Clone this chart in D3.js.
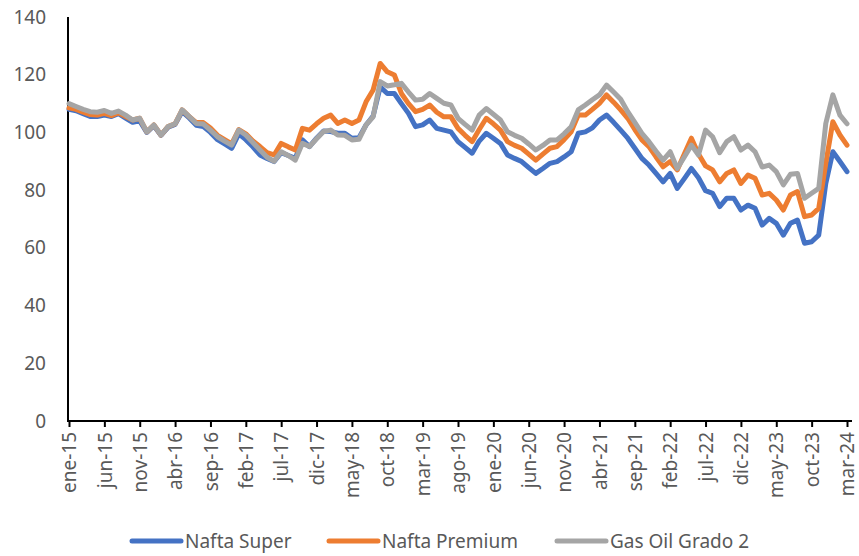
<!DOCTYPE html>
<html>
<head>
<meta charset="utf-8">
<script src="https://cdn.jsdelivr.net/npm/d3@7"></script>
<style>
  body { margin: 0; background: #fff; }
  svg text { font-family: "Noto Sans", "Open Sans", sans-serif; fill: #595959; }
</style>
</head>
<body>
<div id="chart"></div>
<script>
// month labels (ene-15 ... mar-24)
var monthNames = ["ene", "feb", "mar", "abr", "may", "jun", "jul", "ago", "sep", "oct", "nov", "dic"];
var startYear = 2015;
var nMonths = 111;

var yTicks = [0, 20, 40, 60, 80, 100, 120, 140];

var seriesNames = ["Nafta Super", "Nafta Premium", "Gas Oil Grado 2"];
var seriesColors = ["#4472C4", "#ED7D31", "#A5A5A5"];

var naftaSuper = [
  108, 107.5, 106.5, 105.5, 105.5, 106, 105.5, 106.5, 105, 103.5,
  104, 100, 102.3, 99, 101.8, 102.8, 107.2, 105, 102.5, 102,
  100, 97.5, 96, 94.5, 99.5, 97.5, 95, 92.2, 91, 89.9,
  93, 92, 91, 97.4, 95.1, 98, 100.5, 100.3, 99.7, 99.7,
  98, 98.2, 102.6, 105.7, 115.8, 113.5, 113.5, 110, 106.6, 102,
  102.6, 104.3, 101.4, 100.8, 100.2, 96.8, 94.8, 92.8, 97, 99.7,
  98, 96.2, 92.2, 91, 89.9, 87.8, 85.8, 87.5, 89.3, 89.9,
  91.5, 93.3, 99.7, 100.2, 101.6, 104.3, 106, 103.5, 100.8, 98,
  94.5, 91, 88.7, 85.8, 82.9, 85.8, 80.6, 84, 87.5, 84.3,
  79.8, 78.9, 74.3, 77.2, 77.2, 73.1, 74.8, 73.7, 67.9, 70.2,
  68.5, 64.4, 68.5, 69.6, 61.6, 62.1, 64.4, 82.3, 93.3, 89.9,
  86.4
];

var naftaPremium = [
  108.5, 108, 107, 106.2, 106, 106.6, 105.8, 106.8, 105.5, 104.3,
  104.9, 100.2, 102.6, 99.1, 102, 103, 107.8, 105.5, 103.4, 103.4,
  101.5, 99, 97.5, 96, 101, 99.5, 97, 95.1, 93, 92.2,
  96.2, 95, 93.9, 101.4, 100.8, 103, 104.9, 106, 103.1, 104.3,
  103.1, 104.3, 110.6, 114.7, 123.9, 121, 119.9, 113.5, 110, 107.2,
  108, 109.5, 107, 105.4, 105.4, 101.4, 99, 96.8, 101, 104.9,
  103, 100.8, 96.8, 95.5, 94.5, 92.5, 90.4, 92.5, 94.5, 95.1,
  97.5, 100.2, 106, 106, 108, 110.1, 113, 110.5, 107.8, 104.9,
  101, 97.4, 95.1, 91.5, 88.1, 89.9, 87, 92.5, 98, 92.5,
  88.4, 87, 82.9, 85.8, 87, 82.3, 85.2, 84.1, 78.3, 78.9,
  76.6, 73.1, 78.3, 79.5, 70.8, 71.4, 73.7, 89.3, 103.7, 99.1,
  95.6
];

var gasOil = [
  110, 109, 108, 107.2, 107, 107.6, 106.6, 107.4, 106, 104.3,
  104.9, 100.2, 102.6, 99.1, 102, 103, 107.8, 105.5, 103.1, 102.9,
  100.8, 98.5, 97, 95.6, 100.8, 99.1, 96.5, 93.9, 91.4, 90,
  93.3, 92, 90.4, 96.2, 95.1, 97.8, 100.3, 100.8, 99.1, 99,
  97.4, 97.6, 102.6, 105.4, 117.6, 116.1, 116.5, 117, 114, 111.2,
  111.5, 113.5, 111.8, 110.1, 109.5, 104.9, 102.8, 100.8, 106, 108.3,
  106.3, 104.3, 100.2, 99, 98, 96, 93.9, 95.5, 97.4, 97.4,
  99.5, 102, 107.8, 109.5, 111.3, 113, 116.4, 114, 111.5, 107.2,
  103.5, 99.7, 96.8, 93.5, 90.4, 93.3, 87.5, 91.5, 95.6, 92.2,
  100.8, 98.5, 93, 96.8, 98.5, 93.9, 95.6, 93.3, 88, 88.7,
  86.4, 81.8, 85.5, 85.8, 77.2, 78.9, 80.6, 103.1, 113, 106,
  103
];

var seriesValues = [naftaSuper, naftaPremium, gasOil];

var categories = [];
for (var i = 0; i < nMonths; i++) {
  var yr = startYear + Math.floor(i / 12);
  categories.push(monthNames[i % 12] + "-" + String(yr).slice(2));
}

var W = 859, H = 556;
var svg = d3.select("#chart").append("svg")
  .attr("width", W)
  .attr("height", H);

var x = d3.scalePoint().domain(categories).range([69, 847]);
var y = d3.scaleLinear().domain([0, 140]).range([421, 17]);

// y axis labels
svg.append("g")
  .attr("transform", "translate(68,0)")
  .call(d3.axisLeft(y).tickValues(yTicks).tickSize(0).tickPadding(22))
  .call(function (g) { g.select(".domain").remove(); })
  .selectAll("text")
  .style("font-size", "19px")
  .attr("fill", "#595959");

// x axis ticks + rotated labels
var xAxis = svg.append("g")
  .attr("transform", "translate(0,421)")
  .call(d3.axisBottom(x)
    .tickValues(categories.filter(function (d, i) { return i % 5 === 0; }))
    .tickSize(6));
xAxis.select(".domain").remove();
xAxis.selectAll(".tick line").attr("stroke", "#000").attr("stroke-width", 2);
xAxis.selectAll("text")
  .attr("transform", "rotate(-90)")
  .attr("x", -11)
  .attr("y", 0)
  .attr("dy", "0.35em")
  .style("text-anchor", "end")
  .style("font-size", "19px")
  .attr("fill", "#595959");

// axis lines
svg.append("line")
  .attr("x1", 68).attr("x2", 68)
  .attr("y1", y(140)).attr("y2", y(0))
  .attr("stroke", "#000").attr("stroke-width", 2);
svg.append("line")
  .attr("x1", 67).attr("x2", 852)
  .attr("y1", y(0)).attr("y2", y(0))
  .attr("stroke", "#000").attr("stroke-width", 2);

var line = d3.line()
  .x(function (d, i) { return x(categories[i]); })
  .y(function (d) { return y(d); });

svg.append("g").selectAll("path.series")
  .data(seriesValues)
  .enter().append("path")
  .attr("class", "series")
  .attr("d", line)
  .attr("fill", "none")
  .attr("stroke", function (d, i) { return seriesColors[i]; })
  .attr("stroke-width", 5)
  .attr("stroke-linejoin", "round")
  .attr("stroke-linecap", "round");

// legend
var legendX = [130, 327, 555];
var legend = svg.append("g").selectAll("g")
  .data(seriesNames)
  .enter().append("g")
  .attr("transform", function (d, i) { return "translate(" + legendX[i] + ",541)"; });

legend.append("line")
  .attr("x1", 2).attr("x2", 51)
  .attr("stroke", function (d, i) { return seriesColors[i]; })
  .attr("stroke-width", 5)
  .attr("stroke-linecap", "round");

legend.append("text")
  .attr("x", 55)
  .attr("dy", "0.35em")
  .style("font-size", "19px")
  .text(function (d) { return d; });
</script>
</body>
</html>
